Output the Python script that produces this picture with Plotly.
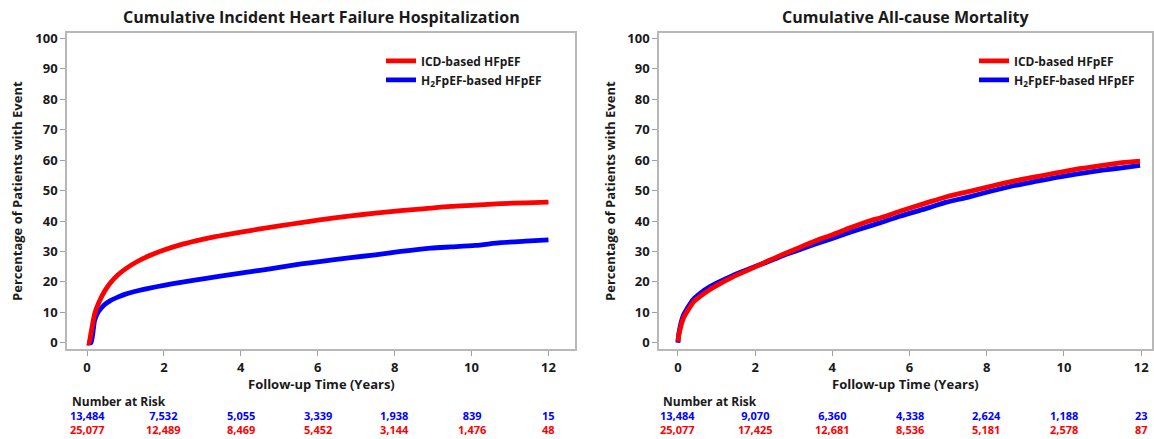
import plotly.graph_objects as go

W, H = 1154, 439

# ---------------- data ----------------
hf_icd_t = [0, 0.05, 0.1, 0.2, 0.3, 0.46, 0.6, 0.8, 1.0, 1.32, 1.6, 2.0, 2.4, 2.8, 3.3, 4.0, 4.5, 5.0,
            5.57, 6.0, 6.86, 7.5, 8.16, 8.8, 9.46, 10.1, 10.76, 11.4, 12.0]
hf_icd_y = [0, 0, 3, 9.6, 13, 17, 19.6, 22.3, 24.3, 26.8, 28.5, 30.5, 32.1, 33.4, 34.8, 36.4, 37.4, 38.4,
            39.5, 40.3, 41.7, 42.6, 43.4, 44.1, 44.8, 45.2, 45.7, 46.0, 46.2]

hf_h2_t = [0, 0.1, 0.15, 0.2, 0.3, 0.46, 0.6, 0.8, 1.0, 1.32, 1.6, 2.0, 2.4, 2.8, 3.3, 4.0, 4.27, 4.5, 5.0,
           5.57, 6.0, 6.86, 7.5, 8.16, 8.94, 9.46, 10.1, 10.76, 11.4, 12.0]
hf_h2_y = [0, 0, 3, 7.5, 10.3, 12.6, 13.8, 15, 16, 17.1, 17.9, 18.9, 19.8, 20.6, 21.6, 22.9, 23.4, 23.8, 24.8,
           25.9, 26.6, 28, 28.9, 30, 31.1, 31.5, 32, 32.9, 33.4, 33.8]

mort_icd_t = [0, 0.03, 0.14, 0.25, 0.4, 0.6, 0.8, 1.0, 1.4, 1.87, 2.3, 2.73, 3.2, 3.6, 4.0, 4.46, 5.0,
              5.23, 5.75, 6.4, 6.96, 7.5, 8.1, 8.69, 9.3, 9.8, 10.4, 11.0, 11.5, 11.97]
mort_icd_y = [0.4, 3, 8, 10.5, 13.4, 15.5, 17.3, 18.8, 21.5, 24.2, 26.7, 29.1, 31.6, 33.7, 35.5, 37.8, 40.2,
              41, 43.2, 45.8, 48, 49.6, 51.4, 53.1, 54.6, 55.8, 57.2, 58.3, 59.2, 59.7]

mort_h2_t = [0, 0.03, 0.14, 0.25, 0.4, 0.6, 0.8, 1.0, 1.4, 1.87, 2.3, 2.73, 3.2, 3.6, 4.0, 4.46, 5.0,
             5.23, 5.75, 6.4, 6.96, 7.5, 8.1, 8.69, 9.3, 9.8, 10.4, 11.0, 11.5, 11.97]
mort_h2_y = [0, 3.5, 9, 11.5, 14.3, 16.5, 18.2, 19.6, 22, 24.4, 26.5, 28.7, 30.8, 32.6, 34.3, 36.3, 38.5,
             39.4, 41.6, 44, 46.2, 47.8, 49.8, 51.6, 53.1, 54.3, 55.6, 56.7, 57.5, 58.3]

risk_times = [0, 2, 4, 6, 8, 10, 12]
hf_risk_h2 = ["13,484", "7,532", "5,055", "3,339", "1,938", "839", "15"]
hf_risk_icd = ["25,077", "12,489", "8,469", "5,452", "3,144", "1,476", "48"]
mort_risk_h2 = ["13,484", "9,070", "6,360", "4,338", "2,624", "1,188", "23"]
mort_risk_icd = ["25,077", "17,425", "12,681", "8,536", "5,181", "2,578", "87"]

titles = ["Cumulative Incident Heart Failure Hospitalization", "Cumulative All-cause Mortality"]
name_icd = "ICD-based HFpEF"
name_h2 = "H<sub>2</sub>FpEF-based HFpEF"

RED = "#ff0000"
BLUE = "#0000ff"
FONT = "Open Sans"
TXT = "#1a1a1a"


def px_x(p):
    return p / W


def px_y(p):
    return 1 - p / H


LW = 4.8
SM = dict(shape="spline", smoothing=0.7)

fig = go.Figure()

# left panel
fig.add_trace(go.Scatter(x=hf_h2_t, y=hf_h2_y, mode="lines", line=dict(color=BLUE, width=LW, **SM),
                         name="<b>" + name_h2 + "</b>", legend="legend", legendrank=2, xaxis="x", yaxis="y"))
fig.add_trace(go.Scatter(x=hf_icd_t, y=hf_icd_y, mode="lines", line=dict(color=RED, width=LW, **SM),
                         name="<b>" + name_icd + "</b>", legend="legend", legendrank=1, xaxis="x", yaxis="y"))
# right panel
fig.add_trace(go.Scatter(x=mort_h2_t, y=mort_h2_y, mode="lines", line=dict(color=BLUE, width=LW, **SM),
                         name="<b>" + name_h2 + "</b>", legend="legend2", legendrank=2, xaxis="x2", yaxis="y2"))
fig.add_trace(go.Scatter(x=mort_icd_t, y=mort_icd_y, mode="lines", line=dict(color=RED, width=LW, **SM),
                         name="<b>" + name_icd + "</b>", legend="legend2", legendrank=1, xaxis="x2", yaxis="y2"))

frames = [(67, 575), (659, 1152)]
xranges = [[-0.52, 12.69], [-0.49, 12.28]]
ytop, ybot = 29, 350

axis_common = dict(showline=True, linecolor="#b8b8b8", linewidth=1.5, mirror=True, ticks="outside",
                   ticklen=5, tickcolor="#a0a0a0", showgrid=False, zeroline=False,
                   tickfont=dict(family=FONT, size=13, color=TXT, weight="bold"))

fig.update_layout(
    width=W, height=H, margin=dict(l=0, r=0, t=0, b=0),
    plot_bgcolor="white", paper_bgcolor="white",
    xaxis=dict(domain=[px_x(frames[0][0]), px_x(frames[0][1])], range=xranges[0],
               tickvals=risk_times, anchor="y", **axis_common),
    yaxis=dict(domain=[px_y(ybot), px_y(ytop)], range=[-2.1, 101.9], tickvals=list(range(0, 101, 10)),
               anchor="x", **axis_common),
    xaxis2=dict(domain=[px_x(frames[1][0]), px_x(frames[1][1])], range=xranges[1],
                tickvals=risk_times, anchor="y2", **axis_common),
    yaxis2=dict(domain=[px_y(ybot), px_y(ytop)], range=[-2.1, 101.9], tickvals=list(range(0, 101, 10)),
                anchor="x2", **axis_common),
    legend=dict(x=px_x(381), y=px_y(43), xanchor="left", yanchor="top", bgcolor="rgba(0,0,0,0)",
                font=dict(family=FONT, size=12, color=TXT), itemwidth=30, tracegroupgap=0),
    legend2=dict(x=px_x(974), y=px_y(43), xanchor="left", yanchor="top", bgcolor="rgba(0,0,0,0)",
                 font=dict(family=FONT, size=12, color=TXT), itemwidth=30, tracegroupgap=0),
    showlegend=True,
)

ann = []
for i, (fl, fr) in enumerate(frames):
    cx = (fl + fr) / 2
    xr = "x" if i == 0 else "x2"
    # title
    ann.append(dict(text="<b>" + titles[i] + "</b>", x=px_x(cx), y=px_y(13), xref="paper", yref="paper",
                    showarrow=False, xanchor="center", yanchor="middle",
                    font=dict(family=FONT, size=16, color=TXT)))
    # x-axis title
    ann.append(dict(text="<b>Follow-up Time (Years)</b>", x=px_x(cx), y=px_y(385), xref="paper", yref="paper",
                    showarrow=False, xanchor="center", yanchor="middle",
                    font=dict(family=FONT, size=13, color=TXT)))
    # y-axis title
    yx = 17 if i == 0 else 610
    ann.append(dict(text="<b>Percentage of Patients with Event</b>", x=px_x(yx), y=px_y((ytop + ybot) / 2),
                    xref="paper", yref="paper", showarrow=False, textangle=-90,
                    xanchor="center", yanchor="middle", font=dict(family=FONT, size=13, color=TXT)))
    # number at risk
    ann.append(dict(text="<b>Number at Risk</b>", x=0, xshift=-17, y=px_y(403), xref=xr, yref="paper",
                    showarrow=False, xanchor="left", yanchor="middle",
                    font=dict(family=FONT, size=12, color=TXT)))
    h2_vals = hf_risk_h2 if i == 0 else mort_risk_h2
    icd_vals = hf_risk_icd if i == 0 else mort_risk_icd
    for t, a, b in zip(risk_times, h2_vals, icd_vals):
        txt = ("<span style='color:%s'><b>%s</b></span><br><span style='color:%s'><b>%s</b></span>"
               % (BLUE, a, RED, b))
        ann.append(dict(text=txt, x=t, y=px_y(424), xref=xr, yref="paper", showarrow=False,
                        xanchor="center", yanchor="middle", align="center",
                        font=dict(family=FONT, size=11, color=BLUE)))

fig.update_layout(annotations=ann)

fig.write_html("out.html", config={"displayModeBar": False},
               post_script="document.body.style.margin='0';document.body.style.overflow='hidden';")
